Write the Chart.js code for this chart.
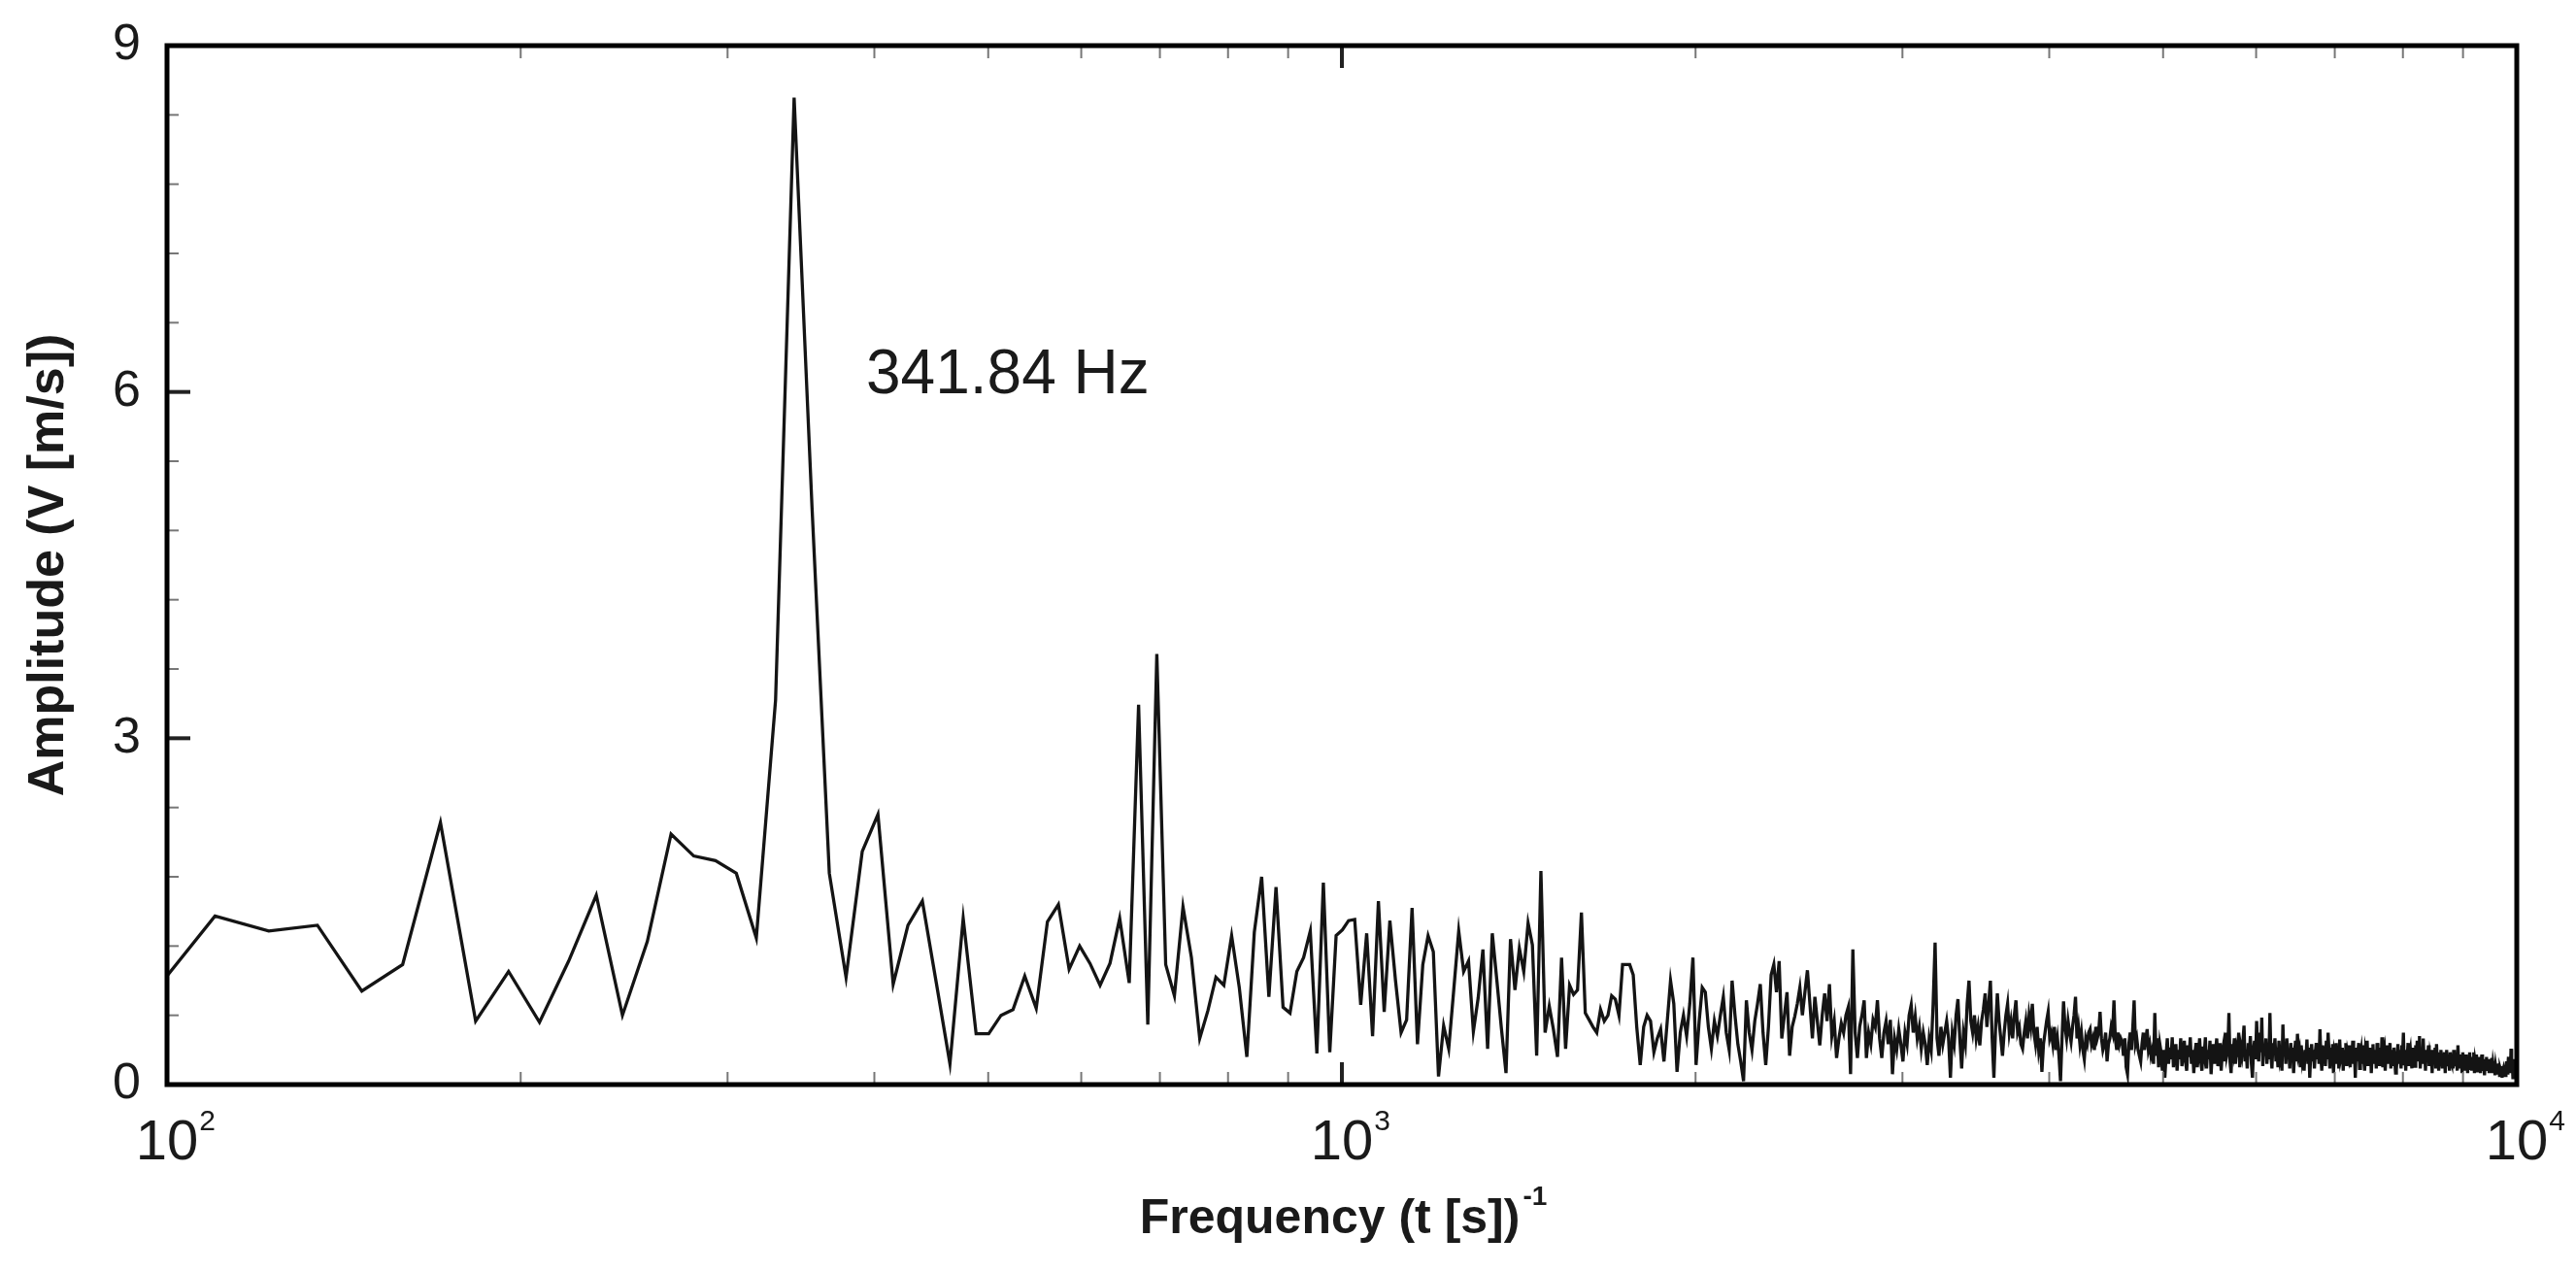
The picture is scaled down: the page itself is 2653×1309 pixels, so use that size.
<!DOCTYPE html>
<html>
<head>
<meta charset="utf-8">
<script src="https://cdn.jsdelivr.net/npm/chart.js@4.4.1/dist/chart.umd.min.js"></script>
<style>
  html, body { margin: 0; padding: 0; background: #fff; }
</style>
</head>
<body>
<canvas id="spectrum" width="2653" height="1309"></canvas>
<script>
// FFT bins: frequency = bin * binHz
const binHz = 12.207;
const firstBin = 8;

// amplitude per bin, bins 8..150
const ampLow = [
  0.81,1.46,1.33,1.38,0.81,1.04,2.27,0.55,0.98,0.54,
  1.07,1.64,0.60,1.24,2.17,1.98,1.94,1.83,1.27,3.33,
  8.55,5.00,1.83,0.93,2.02,2.34,0.87,1.38,1.59,0.88,
  0.18,1.44,0.44,0.44,0.60,0.65,0.94,0.66,1.41,1.56,
  1.00,1.20,1.05,0.86,1.05,1.44,0.88,3.29,0.52,3.73,
  1.04,0.77,1.54,1.10,0.40,0.64,0.93,0.86,1.29,0.84,
  0.24,1.32,1.80,0.76,1.71,0.67,0.62,0.98,1.10,1.33,
  0.27,1.75,0.28,1.29,1.34,1.42,1.43,0.69,1.31,0.42,
  1.59,0.63,1.42,0.90,0.45,0.56,1.53,0.35,1.04,1.29,
  1.15,0.07,0.51,0.31,0.82,1.33,0.98,1.07,0.46,0.75,
  1.17,0.31,1.31,0.90,0.48,0.10,1.26,0.82,1.18,0.98,
  1.40,1.21,0.25,1.85,0.45,0.68,0.48,0.24,1.10,0.31,
  0.86,0.78,0.82,1.49,0.62,0.56,0.50,0.45,0.65,0.55,
  0.60,0.77,0.74,0.60,1.04,1.04,1.04,0.95,0.50,0.17,
  0.50,0.60,0.55
];

// bins 151..400
const ampMid = [
  0.28,0.40,0.48,0.20,0.55,0.90,0.70,0.11,0.45,0.60,
  0.42,0.70,1.10,0.17,0.55,0.84,0.80,0.50,0.31,0.55,
  0.42,0.60,0.76,0.45,0.30,0.90,0.60,0.35,0.20,0.03,
  0.73,0.45,0.30,0.55,0.70,0.87,0.45,0.17,0.50,0.95,
  1.04,0.80,1.07,0.40,0.60,0.80,0.25,0.50,0.59,0.70,
  0.84,0.60,0.80,0.99,0.70,0.40,0.76,0.55,0.34,0.60,
  0.79,0.55,0.87,0.42,0.55,0.23,0.40,0.53,0.45,0.60,
  0.67,0.09,1.17,0.45,0.23,0.50,0.60,0.73,0.23,0.45,
  0.35,0.56,0.50,0.73,0.40,0.23,0.45,0.55,0.35,0.56,
  0.09,0.40,0.30,0.48,0.35,0.20,0.45,0.35,0.60,0.69,
  0.45,0.59,0.40,0.50,0.31,0.45,0.35,0.17,0.40,0.30,
  0.70,1.23,0.40,0.25,0.50,0.35,0.45,0.55,0.40,0.06,
  0.45,0.35,0.60,0.74,0.40,0.14,0.45,0.35,0.70,0.90,
  0.55,0.45,0.60,0.40,0.50,0.34,0.55,0.65,0.79,0.50,
  0.70,0.90,0.40,0.06,0.50,0.79,0.55,0.40,0.25,0.45,
  0.60,0.70,0.45,0.55,0.40,0.60,0.73,0.45,0.50,0.35,
  0.31,0.45,0.55,0.40,0.60,0.50,0.70,0.45,0.35,0.50,
  0.30,0.40,0.11,0.35,0.45,0.55,0.63,0.40,0.45,0.35,
  0.50,0.30,0.40,0.25,0.03,0.40,0.72,0.50,0.40,0.55,
  0.45,0.37,0.50,0.60,0.76,0.40,0.50,0.35,0.45,0.30,
  0.22,0.40,0.35,0.45,0.48,0.35,0.40,0.30,0.50,0.40,
  0.45,0.63,0.40,0.30,0.35,0.45,0.20,0.35,0.40,0.50,
  0.45,0.73,0.40,0.30,0.45,0.35,0.40,0.37,0.25,0.40,
  0.15,0.09,0.35,0.45,0.30,0.50,0.73,0.35,0.40,0.30,
  0.25,0.20,0.35,0.45,0.30,0.40,0.48,0.30,0.35,0.25
];

// bins 401..819
const ampHigh = [
  0.30,0.18,0.62,0.25,0.40,0.15,0.35,0.28,0.12,0.30,
  0.06,0.25,0.40,0.18,0.32,0.22,0.41,0.15,0.28,0.35,
  0.12,0.30,0.22,0.40,0.16,0.26,0.38,0.20,0.12,0.34,
  0.24,0.41,0.18,0.30,0.10,0.28,0.36,0.15,0.25,0.40,
  0.20,0.12,0.33,0.26,0.41,0.14,0.30,0.22,0.38,0.09,
  0.27,0.35,0.18,0.30,0.40,0.16,0.24,0.36,0.12,0.28,
  0.34,0.20,0.45,0.25,0.30,0.62,0.20,0.10,0.35,0.28,
  0.40,0.18,0.30,0.24,0.45,0.15,0.32,0.26,0.38,0.51,
  0.20,0.30,0.14,0.36,0.25,0.42,0.18,0.06,0.30,0.38,
  0.22,0.55,0.30,0.20,0.45,0.28,0.58,0.16,0.35,0.25,
  0.40,0.18,0.30,0.22,0.62,0.25,0.14,0.36,0.28,0.40,
  0.20,0.32,0.15,0.38,0.24,0.30,0.12,0.52,0.26,0.34,
  0.18,0.40,0.22,0.30,0.14,0.36,0.25,0.32,0.10,0.28,
  0.38,0.20,0.44,0.26,0.30,0.15,0.34,0.22,0.28,0.12,
  0.30,0.24,0.39,0.18,0.32,0.06,0.26,0.35,0.20,0.30,
  0.14,0.28,0.36,0.22,0.30,0.18,0.48,0.25,0.12,0.34,
  0.26,0.30,0.16,0.38,0.22,0.45,0.28,0.14,0.32,0.20,
  0.35,0.10,0.28,0.24,0.36,0.18,0.30,0.14,0.39,0.22,
  0.26,0.32,0.12,0.30,0.20,0.36,0.16,0.28,0.24,0.34,
  0.15,0.30,0.22,0.38,0.18,0.26,0.06,0.32,0.20,0.28,
  0.36,0.14,0.25,0.30,0.18,0.34,0.22,0.12,0.30,0.26,
  0.38,0.16,0.28,0.20,0.32,0.10,0.26,0.35,0.18,0.24,
  0.30,0.14,0.36,0.22,0.28,0.16,0.32,0.20,0.41,0.15,
  0.26,0.30,0.12,0.24,0.34,0.18,0.28,0.22,0.36,0.14,
  0.25,0.30,0.16,0.32,0.20,0.10,0.28,0.24,0.35,0.18,
  0.30,0.22,0.14,0.34,0.26,0.45,0.18,0.28,0.12,0.30,
  0.24,0.36,0.16,0.26,0.30,0.20,0.14,0.32,0.22,0.28,
  0.16,0.34,0.24,0.38,0.20,0.30,0.42,0.14,0.26,0.32,
  0.18,0.40,0.22,0.28,0.12,0.30,0.20,0.25,0.34,0.16,
  0.26,0.22,0.30,0.10,0.28,0.18,0.24,0.32,0.14,0.35,
  0.20,0.26,0.12,0.28,0.18,0.30,0.22,0.14,0.25,0.20,
  0.28,0.10,0.24,0.30,0.16,0.22,0.26,0.12,0.28,0.20,
  0.18,0.26,0.14,0.30,0.22,0.16,0.28,0.20,0.12,0.34,
  0.18,0.24,0.14,0.26,0.20,0.10,0.28,0.16,0.22,0.12,
  0.26,0.18,0.22,0.10,0.24,0.16,0.28,0.14,0.20,0.12,
  0.24,0.18,0.28,0.10,0.20,0.16,0.26,0.12,0.22,0.18,
  0.14,0.24,0.10,0.20,0.26,0.12,0.18,0.22,0.08,0.20,
  0.16,0.24,0.12,0.18,0.22,0.10,0.16,0.20,0.14,0.23,
  0.10,0.18,0.14,0.20,0.08,0.16,0.12,0.18,0.10,0.14,
  0.18,0.08,0.14,0.12,0.16,0.06,0.12,0.14,0.10,0.15,
  0.08,0.14,0.20,0.10,0.16,0.24,0.12,0.18,0.10,0.31,
  0.14,0.20,0.06,0.16,0.10,0.22,0.12,0.18,0.20
];

// axis ticks
const yMajor = [0, 3, 6, 9];
const yMinor = [0.6, 1.2, 1.8, 2.4, 3.6, 4.2, 4.8, 5.4, 6.6, 7.2, 7.8, 8.4];
const xMajor = [100, 1000, 10000];
const xMinor = [200, 300, 400, 500, 600, 700, 800, 900, 2000, 3000, 4000, 5000, 6000, 7000, 8000, 9000];
const xExp = ['2', '3', '4'];

const peakLabel = '341.84 Hz';
const xTitle = 'Frequency (t [s])';
const xTitleSup = '-1';
const yTitle = 'Amplitude (V [m/s])';

const amps = ampLow.concat(ampMid, ampHigh);
const points = amps.map((a, i) => ({ x: (firstBin + i) * binHz, y: a }));

const FONT = '"Liberation Sans", Arial, sans-serif';

// frame, inward ticks, labels (Tecplot style)
const decor = {
  id: 'decor',
  afterDraw(chart) {
    const { ctx, chartArea: a, scales: { x, y } } = chart;
    ctx.save();
    ctx.lineCap = 'butt';

    function line(x1, y1, x2, y2, w, c) {
      ctx.beginPath();
      ctx.lineWidth = w;
      ctx.strokeStyle = c;
      ctx.moveTo(x1, y1);
      ctx.lineTo(x2, y2);
      ctx.stroke();
    }

    yMajor.forEach(v => {
      const py = y.getPixelForValue(v);
      line(a.left, py, a.left + 24, py, 4, '#222');
    });
    yMinor.forEach(v => {
      const py = y.getPixelForValue(v);
      line(a.left, py, a.left + 12, py, 2, '#777');
    });
    xMajor.forEach(v => {
      const px = x.getPixelForValue(v);
      line(px, a.bottom, px, a.bottom - 23, 4, '#222');
      line(px, a.top, px, a.top + 23, 4, '#222');
    });
    xMinor.forEach(v => {
      const px = x.getPixelForValue(v);
      line(px, a.bottom, px, a.bottom - 13, 2, '#777');
      line(px, a.top, px, a.top + 13, 2, '#777');
    });

    // frame
    ctx.lineWidth = 5;
    ctx.strokeStyle = '#000';
    ctx.strokeRect(a.left, a.top, a.right - a.left, a.bottom - a.top);

    ctx.fillStyle = '#1a1a1a';

    // y tick labels
    ctx.font = '52px ' + FONT;
    ctx.textAlign = 'right';
    ctx.textBaseline = 'middle';
    yMajor.forEach(v => ctx.fillText(String(v), a.left - 27, y.getPixelForValue(v)));

    // x tick labels 10^n
    ctx.textBaseline = 'alphabetic';
    xMajor.forEach((v, i) => {
      const px = x.getPixelForValue(v);
      ctx.font = '58px ' + FONT;
      ctx.textAlign = 'center';
      ctx.fillText('10', px, a.bottom + 77);
      const w = ctx.measureText('10').width;
      ctx.font = '30px ' + FONT;
      ctx.textAlign = 'left';
      ctx.fillText(xExp[i], px + w / 2 + 1, a.bottom + 47);
    });

    // x title with superscript
    ctx.font = 'bold 50px ' + FONT;
    const tw = ctx.measureText(xTitle).width;
    ctx.font = 'bold 28px ' + FONT;
    const sw = ctx.measureText(xTitleSup).width;
    const cx = (a.left + a.right) / 2;
    const x0 = cx - (tw + sw) / 2;
    ctx.textAlign = 'left';
    ctx.font = 'bold 50px ' + FONT;
    ctx.fillText(xTitle, x0, 1270);
    ctx.font = 'bold 28px ' + FONT;
    ctx.fillText(xTitleSup, x0 + tw + 3, 1241);

    // y title
    ctx.save();
    ctx.translate(65, (a.top + a.bottom) / 2);
    ctx.rotate(-Math.PI / 2);
    ctx.font = 'bold 52px ' + FONT;
    ctx.textAlign = 'center';
    ctx.fillText(yTitle, 0, 0);
    ctx.restore();

    // peak annotation
    ctx.font = '64px ' + FONT;
    ctx.textAlign = 'left';
    ctx.fillText(peakLabel, 892, 405);

    ctx.restore();
  }
};

new Chart(document.getElementById('spectrum').getContext('2d'), {
  type: 'line',
  data: {
    datasets: [{
      data: points,
      borderColor: '#141414',
      borderWidth: 3.3,
      borderJoinStyle: 'miter',
      pointRadius: 0,
      tension: 0,
      fill: false
    }]
  },
  options: {
    responsive: false,
    devicePixelRatio: 1,
    animation: false,
    layout: { padding: { top: 47, right: 61, bottom: 0, left: 0 } },
    plugins: { legend: { display: false }, tooltip: { enabled: false } },
    scales: {
      x: {
        type: 'logarithmic',
        min: 100,
        max: 10000,
        grid: { display: false },
        border: { display: false },
        ticks: { display: false },
        afterFit: s => { s.height = 192; }
      },
      y: {
        min: 0,
        max: 9,
        grid: { display: false },
        border: { display: false },
        ticks: { display: false },
        afterFit: s => { s.width = 172; }
      }
    }
  },
  plugins: [decor]
});
</script>
</body>
</html>
